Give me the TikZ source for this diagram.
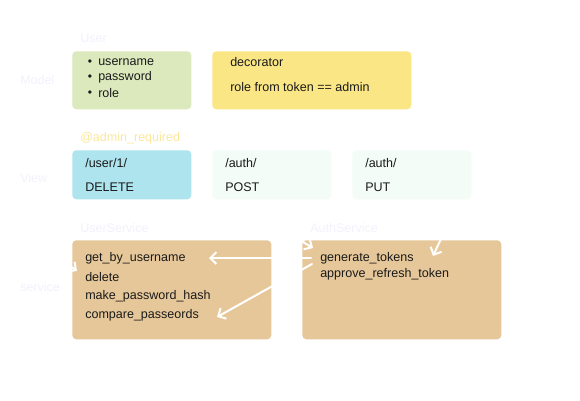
\documentclass[tikz,border=0pt]{standalone}
\usepackage{fontspec}
\setmainfont{Liberation Sans}
\usetikzlibrary{arrows.meta}
\definecolor{lblc}{HTML}{F2F2FD}
\definecolor{decoc}{HTML}{FBE89C}
\definecolor{modelg}{HTML}{DCE9BD}
\definecolor{decoy}{HTML}{FAE685}
\definecolor{viewb}{HTML}{ADE4EE}
\definecolor{viewm}{HTML}{F3FCF7}
\definecolor{servc}{HTML}{E6C799}
\definecolor{ink}{HTML}{1A1A1A}
\begin{document}
\begin{tikzpicture}[x=0.75pt,y=-0.75pt,
  font=\fontsize{9.4}{11}\selectfont,
  box/.style={rounded corners=3pt, draw=none, inner sep=0pt, anchor=north west},
  txt/.style={anchor=west, inner sep=0pt, text=ink},
  bul/.style={inner sep=0pt, text=ink, font=\fontsize{9}{10}\selectfont},
  lbl/.style={anchor=west, inner sep=0pt, text=lblc},
  wa/.style={draw=white, line width=1.5pt, line cap=round,
    -{Straight Barb[length=4.5pt,width=9pt,line width=1.5pt]}}]
\useasboundingbox (0,0) rectangle (580,400);
\fill[white] (0,0) rectangle (580,400);

% row labels
\node[lbl] (lmodel) at (20,80) {Model};
\node[lbl] (lview) at (20,178) {View};
\node[lbl] (lserv) at (20,287) {service};
\node[lbl] (luser) at (80,38) {User};
\node[lbl, text=decoc] (ladmin) at (80,138) {@admin\_required};
\node[lbl] (lus) at (80,228) {UserService};
\node[lbl] (las) at (310,228) {AuthService};

% boxes
\node[box, fill=modelg, minimum width=89.25pt, minimum height=43.5pt] (model) at (72,51) {};
\node[box, fill=decoy, minimum width=149.25pt, minimum height=43.5pt] (deco) at (212,51) {};
\node[box, fill=viewb, minimum width=89.25pt, minimum height=36.75pt] (vdel) at (72,150) {};
\node[box, fill=viewm, minimum width=89.25pt, minimum height=36.75pt] (vpost) at (212,150) {};
\node[box, fill=viewm, minimum width=89.25pt, minimum height=36.75pt] (vput) at (352,150) {};
\node[box, fill=servc, minimum width=149.25pt, minimum height=74.25pt] (us) at (72,240) {};
\node[box, fill=servc, minimum width=149.25pt, minimum height=74.25pt] (as) at (302,240) {};

% model texts
\node[bul] (b1) at (90,63) {•};
\node[bul] (b2) at (90,78) {•};
\node[bul] (b3) at (90,94) {•};
\node[txt] (m1) at (98,62) {username};
\node[txt] (m2) at (98,77) {password};
\node[txt] (m3) at (98,93) {role};
\node[txt] (d1) at (230,62) {decorator};
\node[txt] (d2) at (230,87) {role from token == admin};

% view texts
\node[txt] (v1a) at (85,163) {/user/1/};
\node[txt] (v1b) at (85,187) {DELETE};
\node[txt] (v2a) at (225,163) {/auth/};
\node[txt] (v2b) at (225,187) {POST};
\node[txt] (v3a) at (365,163) {/auth/};
\node[txt] (v3b) at (365,187) {PUT};

% service texts
\node[txt] (gbu) at (85,258) {get\_by\_username};
\node[txt] (del) at (85,277) {delete};
\node[txt] (mph) at (85,296) {make\_password\_hash};
\node[txt] (cmp) at (85,315) {compare\_passeords};
\node[txt] (gt) at (320,258) {generate\_tokens};
\node[txt] (art) at (320,274) {approve\_refresh\_token};

% arrow ends
\coordinate (a1s) at (58,257);
\coordinate (a1e) at (77,271);
\coordinate (a2s) at (233,200);
\coordinate (a2e) at (313,248);
\coordinate (a3s) at (459,200);
\coordinate (a3e) at (433,256);
\coordinate (a4s) at (311,258);
\coordinate (a4e) at (209,258);
\coordinate (a5s) at (312,264);
\coordinate (a5e) at (217,317);

\draw[wa] (a1s) -- (a1e);
\draw[wa] (a2s) -- (a2e);
\draw[wa] (a3s) -- (a3e);
\draw[wa] (a4s) -- (a4e);
\draw[wa] (a5s) -- (a5e);
\end{tikzpicture}
\end{document}
